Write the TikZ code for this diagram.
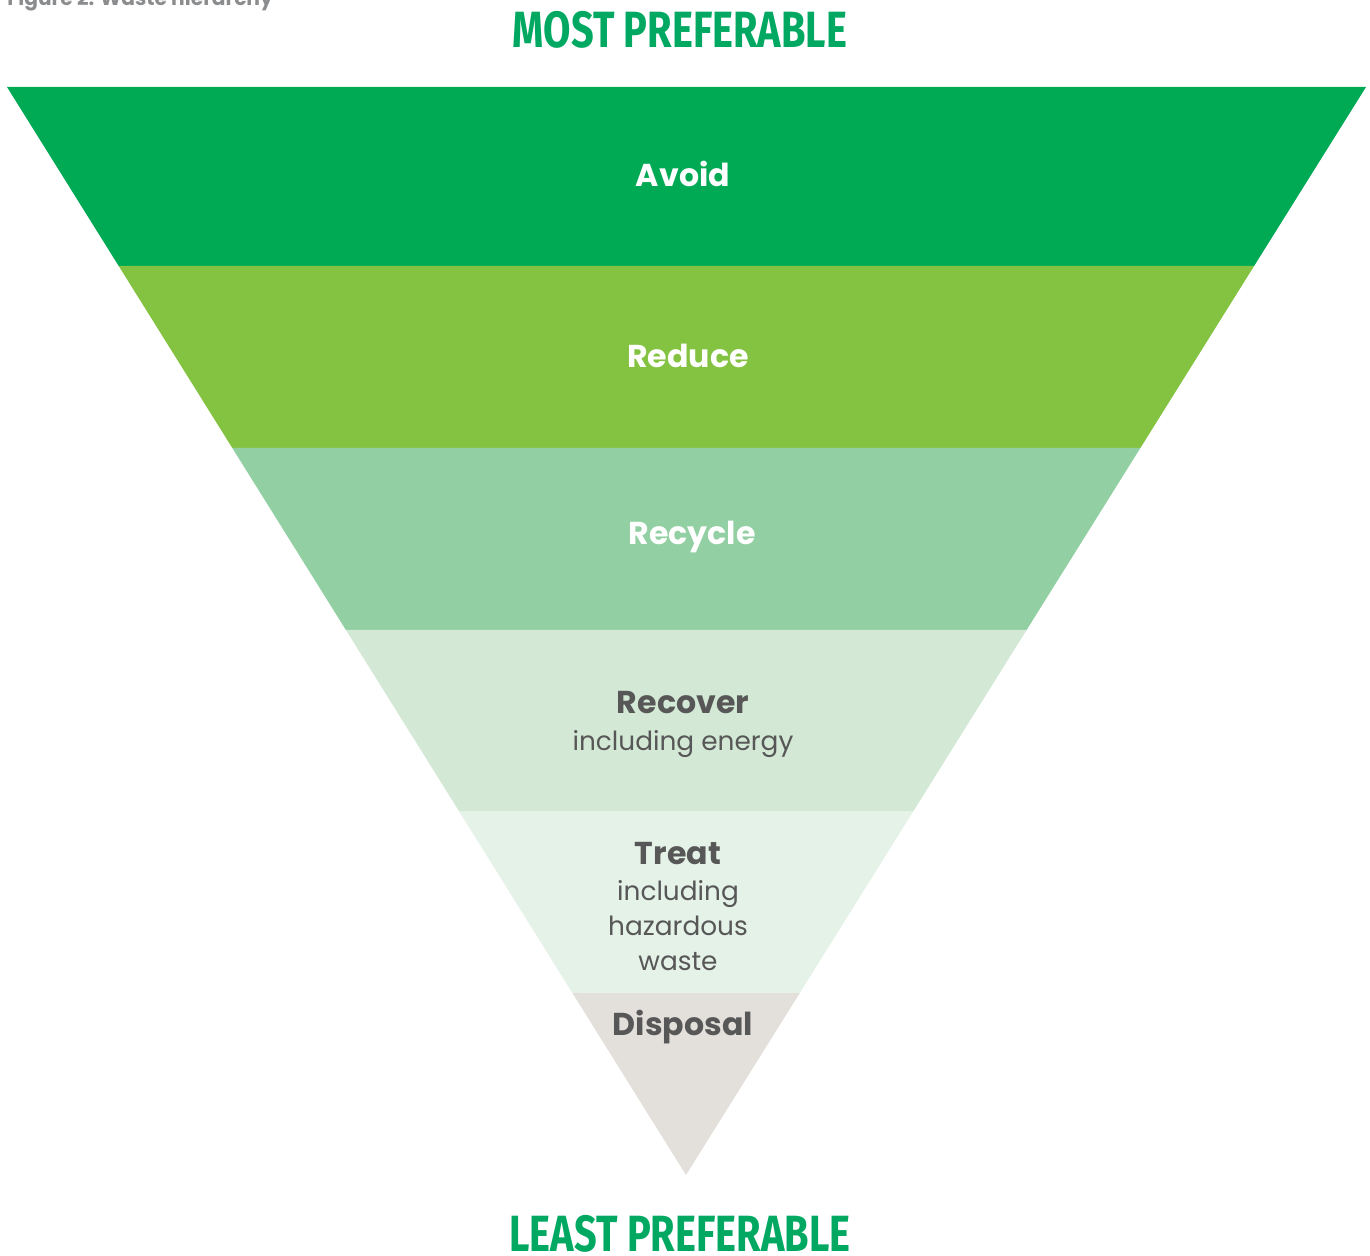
\documentclass[tikz,border=0pt]{standalone}
\usepackage{fontspec}
\usetikzlibrary{positioning}
\setmainfont{Poppins}
\newfontfamily\headfont[FakeStretch=0.78]{Fira Sans}
\definecolor{avoidgreen}{HTML}{00AA55}
\definecolor{reducegreen}{HTML}{84C341}
\definecolor{recyclegreen}{HTML}{92CFA2}
\definecolor{recovergreen}{HTML}{D3E9D6}
\definecolor{treatgreen}{HTML}{E5F2E8}
\definecolor{disposalgrey}{HTML}{E3E0DC}
\definecolor{headgreen}{HTML}{00A862}
\definecolor{textgrey}{HTML}{575757}
\definecolor{captiongrey}{HTML}{8A8C8E}
\tikzset{
  level/.style={font=\fontsize{18}{22}\selectfont\bfseries},
  note/.style={font=\fontsize{15}{20}\selectfont,align=center,text=textgrey},
  heading/.style={font=\headfont\fontsize{29}{32}\selectfont\bfseries,text=headgreen,inner sep=0}
}
\begin{document}
\begin{tikzpicture}[x=0.02cm,y=-0.02cm]
\useasboundingbox(0,0)rectangle(1370,1256);
%caption
\node[anchor=base west,inner sep=0,text=captiongrey,font=\fontsize{11.5}{14}\selectfont\bfseries](caption)at(7,6){Figure 2: Waste hierarchy};
%headings
\node[heading](most)at(680,30){MOST PREFERABLE};
\node[heading](least)at(680,1234){LEAST PREFERABLE};
%bands
\fill[avoidgreen](7,87)--(1366,87)--(1254.1,266)--(118.7,266)--cycle;
\fill[reducegreen](118.7,266)--(1254.1,266)--(1140.4,448)--(232.3,448)--cycle;
\fill[recyclegreen](232.3,448)--(1140.4,448)--(1026.6,630)--(345.9,630)--cycle;
\fill[recovergreen](345.9,630)--(1026.6,630)--(913.5,811)--(458.9,811)--cycle;
\fill[treatgreen](458.9,811)--(913.5,811)--(799.8,993)--(572.4,993)--cycle;
\fill[disposalgrey](572.4,993)--(799.8,993)--(686,1175)--cycle;
%labels
\node[level,text=white](avoid)at(683,174){Avoid};
\node[level,text=white](reduce)at(688,356){Reduce};
\node[level,text=white](recycle)at(692,537){Recycle};
\node[level,text=textgrey](recover)at(683,703){Recover};
\node[note,below=2pt of recover](energy){including energy};
\node[level,text=textgrey](treat)at(678,854){Treat};
\node[note,below=1.5pt of treat](hazard){including\\hazardous\\waste};
\node[level,text=textgrey](disposal)at(683,1027){Disposal};
\end{tikzpicture}
\end{document}
